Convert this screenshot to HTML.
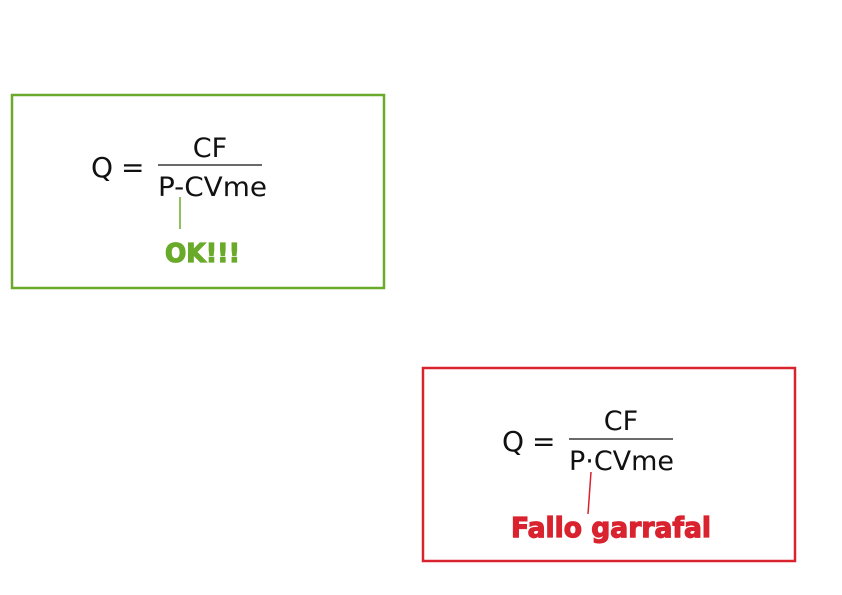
<!DOCTYPE html>
<html><head><style>body{margin:0;background:#fff}svg{display:block}</style></head>
<body>
<svg width="842" height="595" xmlns="http://www.w3.org/2000/svg" font-family="'DejaVu Sans','Liberation Sans',sans-serif">
<rect x="12" y="95" width="372" height="193" fill="none" stroke="#6aaa2a" stroke-width="2.5"/>
<text x="91" y="177" font-size="28" fill="#111">Q</text>
<text x="121" y="177" font-size="28" fill="#111">=</text>
<text x="210" y="157" font-size="27" fill="#111" text-anchor="middle">CF</text>
<line x1="158" y1="165" x2="262" y2="165" stroke="#111" stroke-width="1.3"/>
<text x="158" y="196" font-size="27" fill="#111" textLength="109" lengthAdjust="spacingAndGlyphs">P-CVme</text>
<line x1="180" y1="197" x2="180" y2="229" stroke="#6aaa2a" stroke-width="1.5"/>
<text x="165" y="262" font-size="26" font-weight="bold" fill="#6aaa2a" stroke="#6aaa2a" stroke-width="1.2" textLength="75" lengthAdjust="spacingAndGlyphs">OK!!!</text>

<rect x="423" y="368" width="372" height="193" fill="none" stroke="#d9232e" stroke-width="2.5"/>
<text x="502" y="451" font-size="28" fill="#111">Q</text>
<text x="532" y="451" font-size="28" fill="#111">=</text>
<text x="621" y="430" font-size="27" fill="#111" text-anchor="middle">CF</text>
<line x1="569" y1="439" x2="673" y2="439" stroke="#111" stroke-width="1.3"/>
<text x="569" y="470" font-size="27" fill="#111" textLength="105" lengthAdjust="spacingAndGlyphs">P·CVme</text>
<line x1="591" y1="472" x2="588" y2="514" stroke="#d9232e" stroke-width="1.5"/>
<text x="511" y="537" font-size="28" font-weight="bold" fill="#d9232e" stroke="#d9232e" stroke-width="1.2" textLength="200" lengthAdjust="spacingAndGlyphs">Fallo garrafal</text>
</svg>
</body></html>
